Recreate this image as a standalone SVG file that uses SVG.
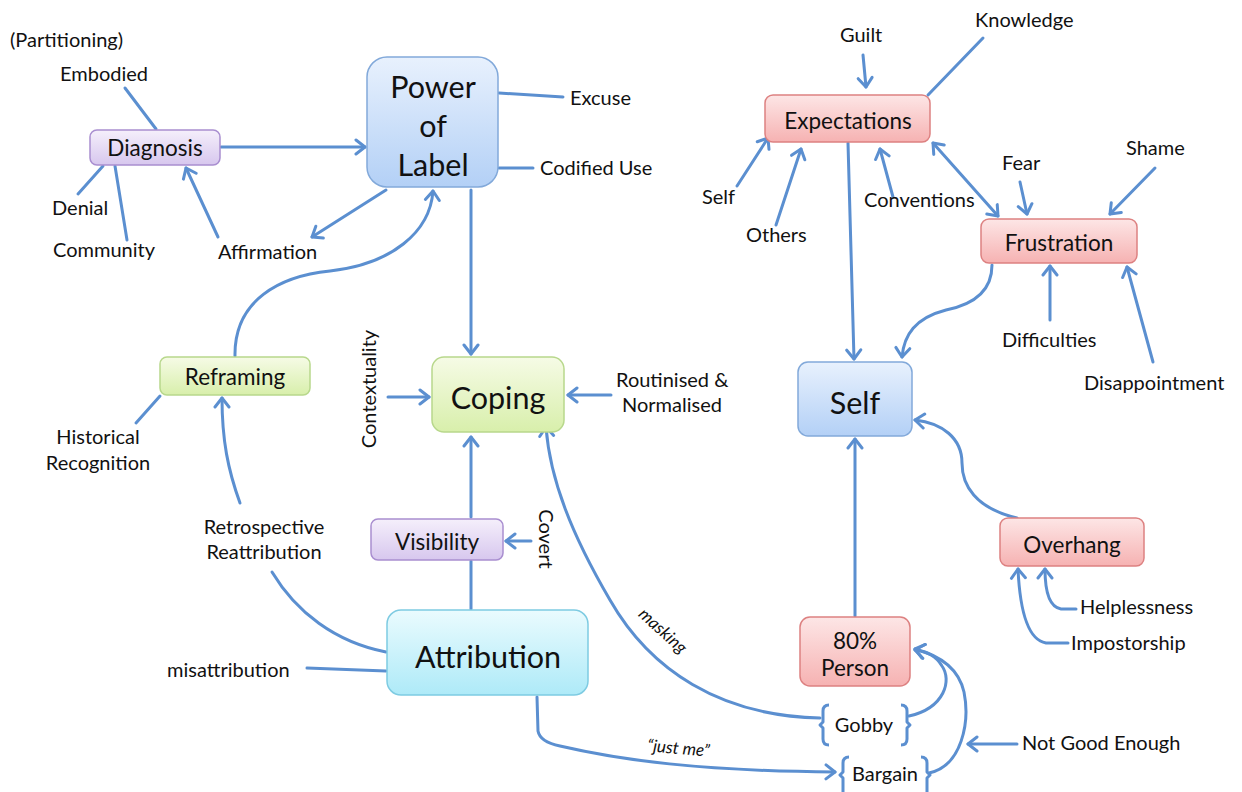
<svg xmlns="http://www.w3.org/2000/svg" width="1242" height="792" viewBox="0 0 1242 792">
  <defs>
    <linearGradient id="gBlue" x1="0" y1="0" x2="0" y2="1">
      <stop offset="0" stop-color="#e8f1fd"/>
      <stop offset="1" stop-color="#b3d0f6"/>
    </linearGradient>
    <linearGradient id="gRed" x1="0" y1="0" x2="0" y2="1">
      <stop offset="0" stop-color="#fde6e6"/>
      <stop offset="1" stop-color="#f6b2b2"/>
    </linearGradient>
    <linearGradient id="gGreen" x1="0" y1="0" x2="0" y2="1">
      <stop offset="0" stop-color="#f6fbe6"/>
      <stop offset="1" stop-color="#d8efab"/>
    </linearGradient>
    <linearGradient id="gPurple" x1="0" y1="0" x2="0" y2="1">
      <stop offset="0" stop-color="#f5effb"/>
      <stop offset="1" stop-color="#d7c7ee"/>
    </linearGradient>
    <linearGradient id="gCyan" x1="0" y1="0" x2="0" y2="1">
      <stop offset="0" stop-color="#eafbfe"/>
      <stop offset="1" stop-color="#aeeaf8"/>
    </linearGradient>
    <marker id="arr" markerUnits="userSpaceOnUse" markerWidth="14" markerHeight="18" viewBox="0 0 14 18" refX="11" refY="9" orient="auto-start-reverse">
      <path d="M2,2 L11,9 L2,16" fill="none" stroke="#5b8fd0" stroke-width="3" stroke-linecap="round" stroke-linejoin="round"/>
    </marker>
  </defs>
  <style>
    text { font-family: Lato, "Open Sans", "Liberation Sans", sans-serif; fill: #111; }
    .lbl { font-size: 20px; }
    .node { font-size: 22.5px; text-anchor: middle; }
    .big { font-size: 30.5px; text-anchor: middle; }
    .it { font-style: italic; font-size: 17px; }
    .c { fill: none; stroke: #5b8fd0; stroke-width: 3; stroke-linecap: round; }
    .a { marker-end: url(#arr); }
    .blue { fill: url(#gBlue); stroke: #82a9da; stroke-width: 1.5; }
    .red { fill: url(#gRed); stroke: #dd8181; stroke-width: 1.5; }
    .green { fill: url(#gGreen); stroke: #b8d88c; stroke-width: 1.5; }
    .purple { fill: url(#gPurple); stroke: #a98ed0; stroke-width: 1.5; }
    .cyan { fill: url(#gCyan); stroke: #7ecbe2; stroke-width: 1.5; }
    .br { fill: none; stroke: #5b8fd0; stroke-width: 3; stroke-linejoin: round; }
  </style>

  <rect width="1242" height="792" fill="#ffffff"/>

  <!-- connectors -->
  <g id="connectors">
    <line class="c" x1="125" y1="88" x2="156" y2="129"/>
    <line class="c" x1="103" y1="166" x2="78" y2="194"/>
    <line class="c" x1="115" y1="166" x2="127" y2="240"/>
    <line class="c a" x1="218" y1="237" x2="186" y2="168"/>
    <line class="c a" x1="221" y1="147" x2="365" y2="147"/>
    <line class="c a" x1="386" y1="190" x2="312" y2="237"/>
    <path class="c a" d="M235,356 C234,300 280,276 330,271 C392,264 430,232 433,191"/>
    <line class="c" x1="499" y1="93" x2="563" y2="97"/>
    <line class="c" x1="499" y1="168" x2="533" y2="168"/>
    <line class="c a" x1="471" y1="190" x2="471" y2="354"/>
    <line class="c a" x1="388" y1="397" x2="429" y2="397"/>
    <line class="c a" x1="611" y1="395" x2="568" y2="395"/>
    <line class="c a" x1="471" y1="517" x2="471" y2="437"/>
    <line class="c a" x1="531" y1="541" x2="506" y2="541"/>
    <line class="c" x1="471" y1="561" x2="471" y2="609"/>
    <line class="c" x1="136" y1="423" x2="160" y2="396"/>
    <path class="c a" d="M240,503 C228,470 222,440 222,398"/>
    <path class="c" d="M386,652 C335,642 296,612 272,572"/>
    <line class="c" x1="307" y1="668" x2="386" y2="671"/>
    <path class="c a" d="M820,718 C720,716 650,670 610,600 C572,535 550,480 546,427"/>
    <path class="c a" d="M537,697 L538,731 Q540,742 560,746 C620,760 700,771 835,772"/>
    <path class="c a" d="M909,716 C945,708 952,680 942,666 C936,656 928,652 915,650"/>
    <path class="c a" d="M929,773 C962,766 970,722 964,692 C959,670 942,656 915,649"/>
    <line class="c a" x1="1017" y1="744" x2="968" y2="744"/>
    <line class="c a" x1="855" y1="616" x2="855" y2="439"/>
    <path class="c a" d="M1017,518 C975,508 962,485 962,463 C962,438 942,423 915,420"/>
    <path class="c a" d="M1076,609 L1061,609 C1049,607 1045,592 1045,569"/>
    <path class="c a" d="M1068,643 L1046,643 C1028,640 1020,612 1018,569"/>
    <line class="c a" x1="848" y1="143" x2="854" y2="359"/>
    <path class="c a" d="M992,265 C992,290 976,304 946,310 C915,318 904,335 902,357"/>
    <line class="c a" x1="1050" y1="320" x2="1050" y2="266"/>
    <line class="c a" x1="1153" y1="362" x2="1127" y2="267"/>
    <line class="c a" x1="1020" y1="182" x2="1027" y2="214"/>
    <line class="c a" x1="1155" y1="168" x2="1110" y2="214"/>
    <line class="c a" x1="933" y1="143" x2="998" y2="216" style="marker-start:url(#arr)"/>
    <line class="c a" x1="863" y1="55" x2="866" y2="87"/>
    <line class="c" x1="983" y1="38" x2="928" y2="95"/>
    <line class="c a" x1="737" y1="186" x2="768" y2="138"/>
    <line class="c a" x1="776" y1="225" x2="801" y2="149"/>
    <line class="c a" x1="893" y1="197" x2="880" y2="149"/>
  </g>

  <!-- free labels -->
  <g id="labels">
    <text class="lbl" x="10" y="47">(Partitioning)</text>
    <text class="lbl" x="60" y="81">Embodied</text>
    <text class="lbl" x="52" y="215">Denial</text>
    <text class="lbl" x="53" y="257">Community</text>
    <text class="lbl" x="218" y="259">Affirmation</text>
    <text class="lbl" x="570" y="105">Excuse</text>
    <text class="lbl" x="540" y="175">Codified Use</text>
    <text class="lbl" x="840" y="42">Guilt</text>
    <text class="lbl" x="975" y="27">Knowledge</text>
    <text class="lbl" x="702" y="204">Self</text>
    <text class="lbl" x="746" y="242">Others</text>
    <text class="lbl" x="864" y="207">Conventions</text>
    <text class="lbl" x="1002" y="170">Fear</text>
    <text class="lbl" x="1126" y="155">Shame</text>
    <text class="lbl" x="1002" y="347">Difficulties</text>
    <text class="lbl" x="1084" y="390">Disappointment</text>
    <text class="lbl" x="1080" y="614">Helplessness</text>
    <text class="lbl" x="1071" y="650">Impostorship</text>
    <text class="lbl" x="1022" y="750">Not Good Enough</text>
    <text class="lbl" x="167" y="677">misattribution</text>
    <text class="lbl" x="264" y="534" text-anchor="middle">Retrospective</text>
    <text class="lbl" x="264" y="559" text-anchor="middle">Reattribution</text>
    <text class="lbl" x="98" y="444" text-anchor="middle">Historical</text>
    <text class="lbl" x="98" y="470" text-anchor="middle">Recognition</text>
    <text class="lbl" x="616" y="387">Routinised &amp;</text>
    <text class="lbl" x="622" y="412">Normalised</text>
    <text class="lbl" text-anchor="middle" transform="translate(376,389) rotate(-90)">Contextuality</text>
    <text class="lbl" text-anchor="middle" transform="translate(539,539) rotate(90)">Covert</text>
    <text class="it" text-anchor="middle" transform="translate(659,635) rotate(42)">masking</text>
    <text class="it" text-anchor="middle" transform="translate(678,754) rotate(5)">“just me”</text>
  </g>

  <!-- nodes -->
  <g id="diagnosis">
    <rect class="purple" x="90" y="130" width="130" height="35" rx="7"/>
    <text class="node" x="155" y="156">Diagnosis</text>
  </g>
  <g id="power-of-label">
    <rect class="blue" x="367" y="57" width="131" height="130" rx="20"/>
    <text class="big" x="433" y="98">Power</text>
    <text class="big" x="433" y="137">of</text>
    <text class="big" x="433" y="176">Label</text>
  </g>
  <g id="reframing">
    <rect class="green" x="160" y="357" width="150" height="38" rx="7"/>
    <text class="node" x="235" y="385">Reframing</text>
  </g>
  <g id="coping">
    <rect class="green" x="432" y="357" width="132" height="75" rx="12"/>
    <text class="big" x="498" y="409">Coping</text>
  </g>
  <g id="visibility">
    <rect class="purple" x="371" y="519" width="132" height="41" rx="7"/>
    <text class="node" x="437" y="550">Visibility</text>
  </g>
  <g id="attribution">
    <rect class="cyan" x="387" y="610" width="201" height="85" rx="14"/>
    <text class="big" x="488" y="668">Attribution</text>
  </g>
  <g id="expectations">
    <rect class="red" x="765" y="95" width="165" height="47" rx="8"/>
    <text class="node" x="848" y="129">Expectations</text>
  </g>
  <g id="frustration">
    <rect class="red" x="981" y="219" width="156" height="44" rx="8"/>
    <text class="node" x="1059" y="251">Frustration</text>
  </g>
  <g id="self">
    <rect class="blue" x="798" y="362" width="114" height="74" rx="10"/>
    <text class="big" x="855" y="414">Self</text>
  </g>
  <g id="overhang">
    <rect class="red" x="1000" y="518" width="144" height="48" rx="8"/>
    <text class="node" x="1072" y="553">Overhang</text>
  </g>
  <g id="person-80">
    <rect class="red" x="800" y="617" width="110" height="69" rx="10"/>
    <text class="node" x="855" y="649">80%</text>
    <text class="node" x="855" y="676">Person</text>
  </g>
  <g id="gobby">
    <path class="br" d="M829,705 Q823,705 823,711 L823,722 L820,725 L823,728 L823,739 Q823,745 829,745"/>
    <path class="br" d="M901,705 Q907,705 907,711 L907,722 L910,725 L907,728 L907,739 Q907,745 901,745"/>
    <text class="lbl" x="864" y="732" text-anchor="middle">Gobby</text>
  </g>
  <g id="bargain">
    <path class="br" d="M849,757 Q843,757 843,763 L843,772 L840,775 L843,778 L843,792"/>
    <path class="br" d="M921,757 Q927,757 927,763 L927,772 L930,775 L927,778 L927,792"/>
    <text class="lbl" x="885" y="781" text-anchor="middle">Bargain</text>
  </g>
</svg>
